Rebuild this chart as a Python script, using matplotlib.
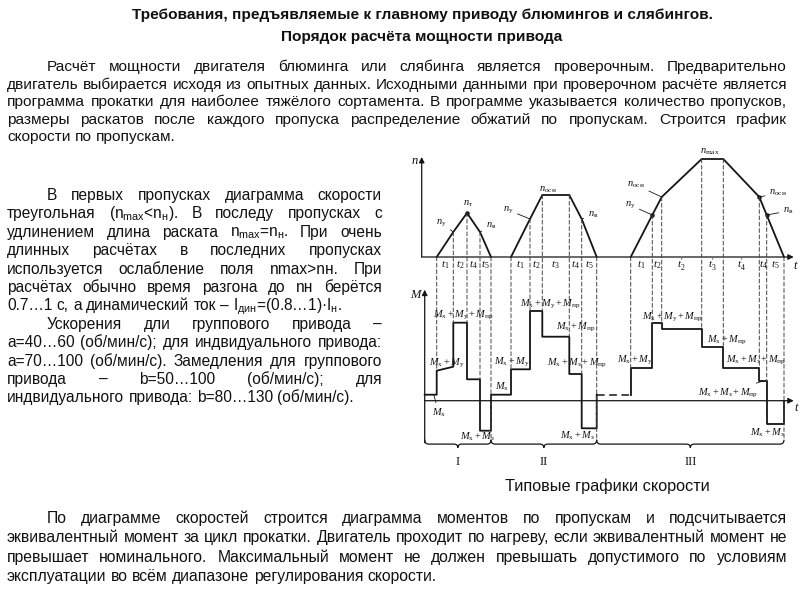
import matplotlib
matplotlib.use('Agg')
import matplotlib.pyplot as plt
from matplotlib import font_manager
from matplotlib.path import Path
from matplotlib.patches import PathPatch, ConnectionPatch

plt.rcParams['mathtext.fontset'] = 'custom'
plt.rcParams['mathtext.rm'] = 'Liberation Serif'
plt.rcParams['mathtext.it'] = 'Liberation Serif:italic'
plt.rcParams['mathtext.bf'] = 'Liberation Serif:bold'
plt.rcParams['mathtext.sf'] = 'Liberation Sans'
plt.rcParams['font.family'] = ['Liberation Sans', 'DejaVu Sans']


def has_font(name):
    try:
        font_manager.findfont(font_manager.FontProperties(family=name), fallback_to_default=False)
        return True
    except Exception:
        return False


NARROW = 'Liberation Sans Narrow' if has_font('Liberation Sans Narrow') else 'Liberation Sans'

# ---------------- data ----------------
title_lines = ["Требования, предъявляемые к главному приводу блюмингов и слябингов.",
               "Порядок расчёта мощности привода"]

para_top = [
    "Расчёт мощности двигателя блюминга или слябинга является проверочным. Предварительно",
    "двигатель выбирается исходя из опытных данных. Исходными данными при проверочном расчёте является",
    "программа прокатки для наиболее тяжёлого сортамента. В программе указывается количество пропусков,",
    "размеры раскатов после каждого пропуска распределение обжатий по пропускам. Строится график",
    "скорости по пропускам.",
]
para_left = [
    "В первых пропусках диаграмма скорости",
    "треугольная (n$_{\\mathsf{max}}$<n$_{\\mathsf{н}}$). В последу пропусках с",
    "удлинением длина раската n$_{\\mathsf{max}}$=n$_{\\mathsf{н}}$. При очень",
    "длинных расчётах в последних пропусках",
    "используется ослабление поля nmax>nн. При",
    "расчётах обычно время разгона до nн берётся",
    "0.7…1 с, а динамический ток – I$_{\\mathsf{дин}}$=(0.8…1)·I$_{\\mathsf{н}}$.",
    "Ускорения дли группового привода –",
    "a=40…60 (об/мин/с); для индвидуального привода:",
    "a=70…100 (об/мин/с). Замедления для группового",
    "привода – b=50…100 (об/мин/с); для",
    "индвидуального привода: b=80…130 (об/мин/с).",
]
para_bottom = [
    "По диаграмме скоростей строится диаграмма моментов по пропускам и подсчитывается",
    "эквивалентный момент за цикл прокатки. Двигатель проходит по нагреву, если эквивалентный момент не",
    "превышает номинального. Максимальный момент не должен превышать допустимого по условиям",
    "эксплуатации во всём диапазоне регулирования скорости.",
]
caption = "Типовые графики скорости"

# speed diagram (arbitrary time / speed units)
speed_I_t = [15, 31.6, 45.3, 58.3, 69.3]
speed_I_n = [0, 25, 44, 25, 0]
speed_II_t = [89.3, 108.3, 120.6, 147.6, 160, 175]
speed_II_n = [0, 38, 62, 62, 38, 0]
speed_III_t = [209, 230.6, 240, 280, 301.6, 337.6, 345, 362.3]
speed_III_n = [0, 42, 60, 98, 98, 60, 42, 0]
interval_labels_I = ["1", "2", "4", "5"]
interval_labels_II = ["1", "2", "3", "4", "5"]
interval_labels_III = ["1", "2", "2'", "3'", "4'", "4", "5"]

# torque diagram: interval boundaries and level at start / end of each interval
torque_A_t = [3, 15, 31.6, 45.3, 58.3, 69.3, 89.3, 108.3, 120.6, 147.6, 160, 175]
torque_A_start = [6, 30, 78, 21.4, -30, 6, 31.4, 89.7, 64, 26.7, -27.6]
torque_A_end = [6, 34, 78, 21.4, -30, 6, 31.4, 89.7, 64, 26.7, -27.6]
torque_idle_t = [175, 209]
torque_idle_m = 6
torque_B_t = [209, 230.6, 240, 280, 301.6, 337.6, 345, 362.3]
torque_B_start = [32.4, 77.4, 71.4, 54, 33, 19.7, -23.3]
torque_B_end = [32.4, 77.4, 71.4, 54, 33, 19.7, -23.3]
pass_bounds = [3, 69.3, 175, 362.3]
pass_names = ["I", "II", "III"]

# ---------------- figure ----------------
fig = plt.figure(figsize=(8, 6), dpi=100)
fig.patch.set_facecolor('white')
ax_bg = fig.add_axes([0, 0, 1, 1])
ax_bg.set_xlim(0, 800)
ax_bg.set_ylim(600, 0)
ax_bg.axis('off')
renderer = fig.canvas.get_renderer()
TXT = '#111111'


def text_width(s, **kw):
    t = ax_bg.text(0, 0, s, **kw)
    w = t.get_window_extent(renderer).width
    t.remove()
    return w


def fit_size(s, target, **kw):
    return 10.0 * target / text_width(s, fontsize=10, **kw)


def put_line(line, x0, x1, y, justify, **kw):
    words = line.split(' ')
    widths = [text_width(w, **kw) for w in words]
    if justify and len(words) > 1:
        gap = (x1 - x0 - sum(widths)) / (len(words) - 1)
    else:
        gap = text_width('a a', **kw) - text_width('aa', **kw)
    x = x0
    for w, wd in zip(words, widths):
        ax_bg.text(x, y, w, ha='left', va='baseline', color=TXT, **kw)
        x += wd + gap


def put_paragraph(lines, x_indent, x0, x1, y0, dy, **kw):
    for i, line in enumerate(lines):
        xs = x_indent if i == 0 else x0
        put_line(line, xs, x1, y0 + i * dy, i < len(lines) - 1, **kw)


# titles
tkw = dict(family=[NARROW, 'Liberation Sans'], fontweight='bold')
tsize = fit_size(title_lines[0], 579, **tkw)
ax_bg.text(422, 19, title_lines[0], ha='center', va='baseline', fontsize=tsize, color=TXT, **tkw)
ax_bg.text(422, 41, title_lines[1], ha='center', va='baseline', fontsize=tsize, color=TXT, **tkw)

# top paragraph
pkw = dict(family=[NARROW, 'Liberation Sans'])
psize = fit_size(para_top[1], 778, **pkw)
put_paragraph(para_top, 47, 7, 787, 71, 17.6, fontsize=psize, **pkw)

# bottom paragraph
bsize = fit_size(para_bottom[1], 778, **pkw)
put_paragraph(para_bottom, 47, 7, 787, 523, 19.3, fontsize=bsize, **pkw)

# left paragraphs
lkw = dict(family=['Liberation Sans', 'DejaVu Sans'])
lsize = fit_size(para_left[-1], 348, **lkw)
put_paragraph(para_left[:7], 47, 7, 382, 200, 18.4, fontsize=lsize, **lkw)
put_paragraph(para_left[7:], 47, 7, 382, 200 + 7 * 18.4, 18.4, fontsize=lsize, **lkw)

# caption
ax_bg.text(607, 486, caption, ha='center', va='center', fontsize=lsize * 1.05,
           family=['Liberation Sans'], color=TXT)

# ---------------- diagram axes ----------------
X0, X1 = -21.7, 378.3
ax_n = fig.add_axes([0.5, (600 - 257) / 600, 0.5, 117 / 600])
ax_n.set_xlim(X0, X1)
ax_n.set_ylim(0, 117)
ax_m = fig.add_axes([0.5, 150 / 600, 0.5, 170 / 600])
ax_m.set_xlim(X0, X1)
ax_m.set_ylim(-49.3, 120.7)
for a in (ax_n, ax_m):
    a.axis('off')
    a.patch.set_alpha(0)

LC = '#151515'
DC = '#444444'
arrow_kw = dict(arrowstyle='-|>', mutation_scale=8, lw=0.9, color=LC, shrinkA=0, shrinkB=0)

# axes arrows
ax_n.annotate('', xy=(0, 100), xytext=(0, 0), arrowprops=arrow_kw, annotation_clip=False)
ax_n.annotate('', xy=(372, 0), xytext=(0, 0), arrowprops=arrow_kw, annotation_clip=False)
ax_m.annotate('', xy=(3, 111), xytext=(3, -42), arrowprops=arrow_kw, annotation_clip=False)
ax_m.annotate('', xy=(372, 0), xytext=(3, 0), arrowprops=arrow_kw, annotation_clip=False)
ser = dict(family=['Liberation Serif'], style='italic', color=TXT)
ax_bg.text(415, 161, 'n', ha='center', va='center', fontsize=9, **ser)
ax_bg.text(795, 266, 't', ha='center', va='center', fontsize=9, **ser)
ax_bg.text(415, 295, 'M', ha='center', va='center', fontsize=9, **ser)
ax_bg.text(796, 408, 't', ha='center', va='center', fontsize=9, **ser)

# speed curves
for ts, ns in ((speed_I_t, speed_I_n), (speed_II_t, speed_II_n), (speed_III_t, speed_III_n)):
    ax_n.plot(ts, ns, color=LC, lw=1.3, clip_on=False, solid_joinstyle='miter')


# torque curves
def step_poly(tb, m0, m1):
    xs, ys = [], []
    for i in range(len(m0)):
        xs += [tb[i], tb[i + 1]]
        ys += [m0[i], m1[i]]
    return xs, ys


xa, ya = step_poly(torque_A_t, torque_A_start, torque_A_end)
xa.append(torque_A_t[-1]); ya.append(torque_idle_m)
ax_m.plot(xa, ya, color=LC, lw=1.3, clip_on=False)
ax_m.plot(torque_idle_t, [torque_idle_m] * 2, color=LC, lw=1.1, ls=(0, (5, 3)), clip_on=False)
xb, yb = step_poly(torque_B_t, torque_B_start, torque_B_end)
xb = [torque_B_t[0]] + xb + [torque_B_t[-1]]
yb = [torque_idle_m] + yb + [0]
ax_m.plot(xb, yb, color=LC, lw=1.3, clip_on=False)

# braces
BR_TOP, BR_DEPTH = -39, 8


def brace(ax, a, b, top, h):
    mid = (a + b) / 2
    hy = top - h * 0.55
    r = 4
    verts = [(a, top), (a, hy), (a + r, hy), (mid - r, hy), (mid, hy), (mid, top - h),
             (mid, hy), (mid + r, hy), (b - r, hy), (b, hy), (b, top)]
    codes = [Path.MOVETO, Path.CURVE3, Path.CURVE3, Path.LINETO, Path.CURVE3, Path.CURVE3,
             Path.CURVE3, Path.CURVE3, Path.LINETO, Path.CURVE3, Path.CURVE3]
    ax.add_patch(PathPatch(Path(verts, codes), fill=False, lw=0.9, color=LC, clip_on=False))
    return mid


for i, name in enumerate(pass_names):
    mid = brace(ax_m, pass_bounds[i], pass_bounds[i + 1], BR_TOP, BR_DEPTH)
    ax_m.text(mid, -61, name, ha='center', va='center', fontsize=9,
              family=['Liberation Serif'], color=TXT, clip_on=False)

# torque level lookup for connectors
segs = []
for tb, m0, m1 in ((torque_A_t, torque_A_start, torque_A_end), (torque_B_t, torque_B_start, torque_B_end)):
    for i in range(len(m0)):
        segs.append((tb[i], tb[i + 1], m0[i], m1[i]))


def top_level(t):
    vals = []
    for a, b, m0, m1 in segs:
        if abs(a - t) < 1e-6:
            vals.append(m0)
        if abs(b - t) < 1e-6:
            vals.append(m1)
    return max(vals) if vals else torque_idle_m


for ts, ns in ((speed_I_t, speed_I_n), (speed_II_t, speed_II_n), (speed_III_t, speed_III_n)):
    for k, (t, n) in enumerate(zip(ts, ns)):
        low = BR_TOP if k == len(ts) - 1 else top_level(t)
        con = ConnectionPatch(xyA=(t, n), coordsA=ax_n.transData, xyB=(t, low), coordsB=ax_m.transData,
                              color=DC, lw=0.7, ls=(0, (4, 2.5)))
        fig.add_artist(con)

# interval labels (t_i)
for ts, labs in ((speed_I_t, interval_labels_I), (speed_II_t, interval_labels_II), (speed_III_t, interval_labels_III)):
    for i, lab in enumerate(labs):
        mid = (ts[i] + ts[i + 1]) / 2
        if lab.endswith("'"):
            s = '$t_{%s}^{\\prime}$' % lab[:-1]
        else:
            s = '$t_{%s}$' % lab
        ax_n.text(mid, -8, s, ha='center', va='center', fontsize=8, color=TXT, clip_on=False)

# speed labels
lab_kw = dict(fontsize=7.5, color=TXT, ha='center', va='center')
leader = dict(arrowstyle='-', lw=0.6, color=LC, shrinkA=1, shrinkB=0)
speed_labels = [
    ('$n_{\\mathrm{у}}$', 441, 223, (speed_I_t[1], speed_I_n[1])),
    ('$n_{\\mathrm{т}}$', 468, 204, None),
    ('$n_{\\mathrm{в}}$', 491, 226, (speed_I_t[3], speed_I_n[3])),
    ('$n_{\\mathrm{у}}$', 508, 210, (speed_II_t[1], speed_II_n[1])),
    ('$n_{\\mathrm{осн}}$', 548, 190, None),
    ('$n_{\\mathrm{в}}$', 593, 215, (speed_II_t[4], speed_II_n[4])),
    ('$n_{\\mathrm{осн}}$', 636, 185, (speed_III_t[2], speed_III_n[2])),
    ('$n_{\\mathrm{у}}$', 630, 205, (speed_III_t[1], speed_III_n[1])),
    ('$n_{\\mathrm{max}}$', 710, 152, None),
    ('$n_{\\mathrm{осн}}$', 778, 193, (speed_III_t[5], speed_III_n[5])),
    ('$n_{\\mathrm{в}}$', 788, 211, (speed_III_t[6], speed_III_n[6])),
]
for s, px, py, tgt in speed_labels:
    if tgt is None:
        ax_bg.text(px, py, s, **lab_kw)
    else:
        ax_n.annotate(s, xy=tgt, xycoords='data', xytext=(px, py), textcoords=ax_bg.transData,
                      arrowprops=leader, annotation_clip=False, **lab_kw)
for tgt in [(speed_I_t[2], speed_I_n[2]), (speed_III_t[1], speed_III_n[1]),
            (speed_III_t[5], speed_III_n[5]), (speed_III_t[6], speed_III_n[6])]:
    ax_n.plot([tgt[0]], [tgt[1]], 'o', ms=2.2, color=LC, clip_on=False)

# torque labels
MX = 'M_{\\mathrm{х}}'
MY = 'M_{\\mathrm{у}}'
MP = 'M_{\\mathrm{пр}}'
MZ = 'M_{\\mathrm{з}}'
torque_labels = [
    ('$' + MX + '$', 439, 413, (12, 6)),
    ('$%s + %s$' % (MX, MY), 447, 363, None),
    ('$%s + %s + %s$' % (MX, MY, MP), 463, 315, None),
    ('$%s + %s$' % (MX, MZ), 477, 437, None),
    ('$' + MX + '$', 502, 387, None),
    ('$%s + %s$' % (MX, MY), 512, 362, None),
    ('$%s + %s + %s$' % (MX, MY, MP), 550, 304, None),
    ('$%s + %s$' % (MX, MP), 576, 327, None),
    ('$%s + %s + %s$' % (MX, MZ, MP), 577, 363, None),
    ('$%s + %s$' % (MX, MZ), 577, 436, None),
    ('$%s + %s$' % (MX, MY), 635, 360, None),
    ('$%s + %s + %s$' % (MX, MY, MP), 672, 317, None),
    ('$%s + %s$' % (MX, MP), 727, 340, None),
    ('$%s + %s + %s$' % (MX, MZ, MP), 756, 360, None),
    ('$%s + %s + %s$' % (MX, MZ, MP), 728, 393, (341, 19.7)),
    ('$%s + %s$' % (MX, MZ), 767, 433, None),
]
for s, px, py, tgt in torque_labels:
    if tgt is None:
        ax_bg.text(px, py, s, zorder=5, **lab_kw)
    else:
        ax_m.annotate(s, xy=tgt, xycoords='data', xytext=(px, py), textcoords=ax_bg.transData,
                      arrowprops=leader, annotation_clip=False, **lab_kw)

fig.savefig('out.png', dpi=100, facecolor='white')
